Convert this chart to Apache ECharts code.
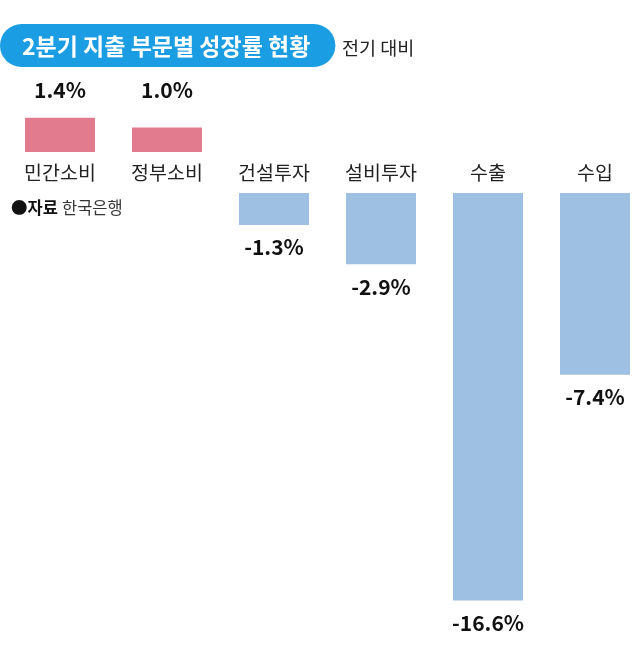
<!DOCTYPE html>
<html>
<head>
<meta charset="utf-8">
<script src="https://cdn.jsdelivr.net/npm/echarts@6/dist/echarts.min.js"></script>
<style>
html,body{margin:0;padding:0;background:#fff;}
#chart{width:640px;height:668px;}
</style>
</head>
<body>
<div id="chart"></div>
<script>
const categories = ['민간소비', '정부소비', '건설투자', '설비투자', '수출', '수입'];
const values = [1.4, 1.0, -1.3, -2.9, -16.6, -7.4];
const titleText = '2분기 지출 부문별 성장률 현황';
const subText = '전기 대비';
const sourceLabel = '●자료';
const sourceName = '한국은행';

const FONT = '"Noto Sans CJK KR", "Noto Sans", sans-serif';
const fmt = v => v.toFixed(1) + '%';

const chart = echarts.init(document.getElementById('chart'), null, {renderer: 'canvas'});
chart.setOption({
  animation: false,
  backgroundColor: '#fff',
  textStyle: {fontFamily: FONT},
  title: [{
    text: titleText,
    left: 0, top: 24,
    backgroundColor: '#1b9de3',
    borderRadius: 22,
    padding: [10, 25, 9, 22],
    textStyle: {color: '#fff', fontSize: 23, fontWeight: 'bold', fontFamily: FONT, lineHeight: 24}
  }, {
    text: subText,
    left: 342, top: 38,
    padding: 0,
    textStyle: {color: '#222', fontSize: 18.5, fontWeight: 'normal', fontFamily: FONT, lineHeight: 20}
  }, {
    text: '{b|' + sourceLabel + '} {n|' + sourceName + '}',
    left: 11, top: 199,
    padding: 0,
    textStyle: {
      fontFamily: FONT,
      rich: {
        b: {fontSize: 16.5, fontWeight: 'bold', color: '#111', fontFamily: FONT},
        n: {fontSize: 16.5, fontWeight: 'normal', color: '#333', fontFamily: FONT}
      }
    }
  }],
  grid: [
    {left: 60, right: 45, top: 103, height: 49},
    {left: 60, right: 45, top: 193, height: 442}
  ],
  xAxis: [
    {
      type: 'category', gridIndex: 0, data: categories, position: 'bottom', boundaryGap: false,
      axisLine: {show: false}, axisTick: {show: false},
      axisLabel: {margin: 11, fontSize: 19.5, color: '#222', fontFamily: FONT}
    },
    {
      type: 'category', gridIndex: 0, data: values.map(v => v > 0 ? fmt(v) : ''), position: 'top', boundaryGap: false,
      axisLine: {show: false}, axisTick: {show: false},
      axisLabel: {margin: 2, fontSize: 21, fontWeight: 'bold', color: '#111', fontFamily: FONT}
    },
    {
      type: 'category', gridIndex: 1, data: categories, show: false, boundaryGap: false
    }
  ],
  yAxis: [
    {type: 'value', gridIndex: 0, min: 0, max: 2, show: false},
    {type: 'value', gridIndex: 1, min: -18, max: 0, show: false}
  ],
  series: [
    {
      type: 'bar', xAxisIndex: 0, yAxisIndex: 0, clip: false,
      data: values.map(v => v > 0 ? v : '-'),
      barWidth: 70,
      itemStyle: {color: '#e27b8e'}
    },
    {
      type: 'bar', xAxisIndex: 2, yAxisIndex: 1, clip: false,
      data: values.map(v => v < 0 ? v : '-'),
      barWidth: 70,
      itemStyle: {color: '#9ec0e3'},
      label: {
        show: true, position: 'bottom', distance: 12,
        formatter: p => fmt(p.value),
        fontSize: 21, fontWeight: 'bold', color: '#111', fontFamily: FONT
      }
    }
  ]
});
</script>
</body>
</html>
